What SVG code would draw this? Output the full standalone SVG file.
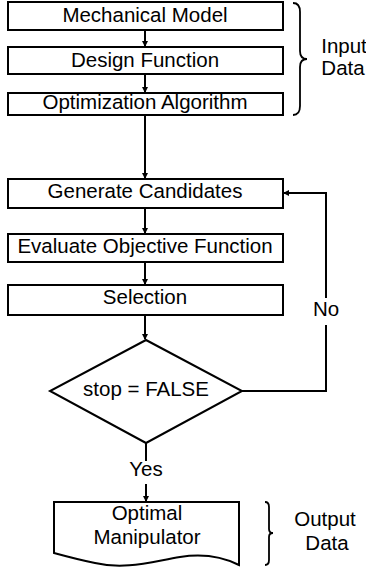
<svg xmlns="http://www.w3.org/2000/svg" width="366" height="570" viewBox="0 0 366 570">
<style>
.box{fill:#fff;stroke:#000;stroke-width:2}
.ln{fill:none;stroke:#000;stroke-width:2}
.br{fill:none;stroke:#000;stroke-width:1.8}
text{font-family:"Liberation Sans",Arial,sans-serif;font-size:20.5px;fill:#000;text-anchor:middle}
</style>
<defs>
<marker id="ah" markerWidth="6" markerHeight="6" refX="5" refY="3" orient="auto" markerUnits="userSpaceOnUse">
<path d="M0,0 L6,3 L0,6 z" fill="#000"/>
</marker>
</defs>
<rect width="366" height="570" fill="#fff"/>
<g id="connectors">
<line class="ln" x1="145" y1="30" x2="145" y2="46" marker-end="url(#ah)"/>
<line class="ln" x1="145" y1="74" x2="145" y2="92" marker-end="url(#ah)"/>
<line class="ln" x1="145" y1="115" x2="145" y2="178" marker-end="url(#ah)"/>
<line class="ln" x1="145" y1="208" x2="145" y2="233" marker-end="url(#ah)"/>
<line class="ln" x1="145" y1="262" x2="145" y2="284" marker-end="url(#ah)"/>
<line class="ln" x1="145" y1="315" x2="145" y2="339" marker-end="url(#ah)"/>
<polyline class="ln" points="242,391 326,391 326,325"/>
<polyline class="ln" points="326,298 326,193 284,193" marker-end="url(#ah)"/>
<text x="326" y="315.5">No</text>
<line class="ln" x1="146" y1="443" x2="146" y2="461"/>
<line class="ln" x1="146" y1="484" x2="146" y2="501" marker-end="url(#ah)"/>
<text x="146" y="475.5">Yes</text>
</g>
<g id="mechanical-model">
<rect class="box" x="8" y="2" width="275" height="28"/>
<text x="145" y="22">Mechanical Model</text>
</g>
<g id="design-function">
<rect class="box" x="8" y="47" width="275" height="27"/>
<text x="145" y="67">Design Function</text>
</g>
<g id="optimization-algorithm">
<rect class="box" x="8" y="93" width="275" height="22"/>
<text x="145" y="108.5">Optimization Algorithm</text>
</g>
<g id="input-data">
<path class="br" d="M293,3 Q300,3 300,12 L300,51 Q300,59 307,59 Q300,59 300,67 L300,106 Q300,115 293,115"/>
<text x="344" y="53">Input</text>
<text x="343" y="75">Data</text>
</g>
<g id="generate-candidates">
<rect class="box" x="8" y="179" width="275" height="29"/>
<text x="145" y="198">Generate Candidates</text>
</g>
<g id="evaluate-objective-function">
<rect class="box" x="8" y="234" width="275" height="28"/>
<text x="145" y="252.5">Evaluate Objective Function</text>
</g>
<g id="selection">
<rect class="box" x="8" y="285" width="275" height="30"/>
<text x="145" y="303.5">Selection</text>
</g>
<g id="stop-decision">
<polygon class="box" points="146,340 242,391 146,443 50,391"/>
<text x="146" y="396">stop = FALSE</text>
</g>
<g id="optimal-manipulator">
<path class="box" d="M54,502 L239,502 L239,565 C225,558 205,553 180,557 C150,562 125,570 95,563 C80,560 65,556 54,553 Z"/>
<text x="147" y="520">Optimal</text>
<text x="147" y="544">Manipulator</text>
</g>
<g id="output-data">
<path class="br" d="M265,502 Q269,502 269,507 L269,529 Q269,533 273,533 Q269,533 269,537 L269,560 Q269,565 265,565"/>
<text x="325" y="526">Output</text>
<text x="327" y="550">Data</text>
</g>
</svg>
